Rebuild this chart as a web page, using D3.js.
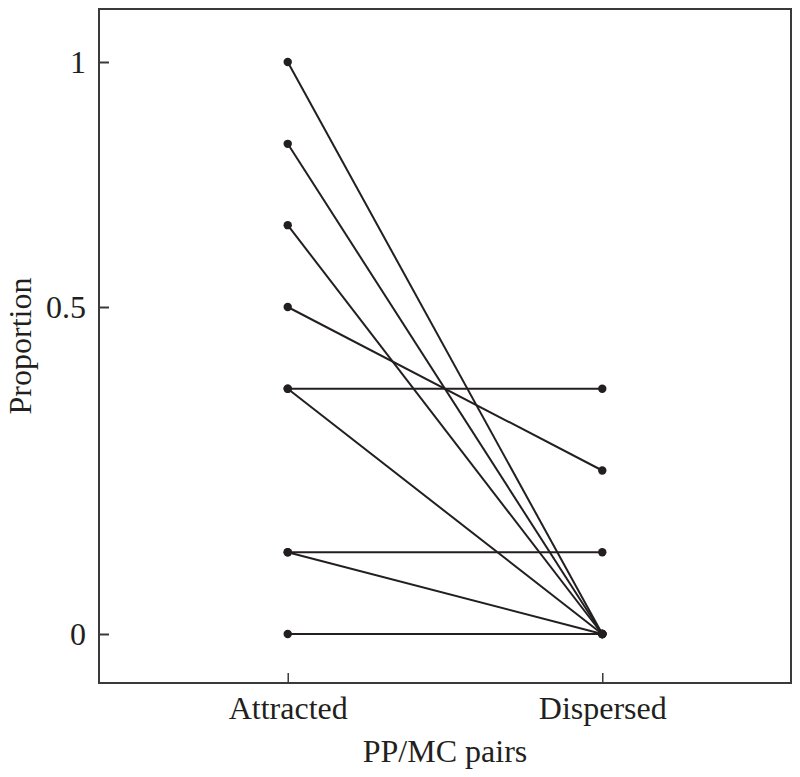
<!DOCTYPE html>
<html>
<head>
<meta charset="utf-8">
<script src="https://cdn.jsdelivr.net/npm/d3@7"></script>
<style>
  html, body { margin: 0; padding: 0; background: #fff; }
  svg { display: block; }
  text { font-family: "Liberation Serif", "DejaVu Serif", serif; fill: #231f20; }
</style>
</head>
<body>
<svg id="chart" width="800" height="777"></svg>
<script>
// Data
const groups = ["Attracted", "Dispersed"];
const attracted = [1, 0.833, 0.667, 0.5, 0.375, 0.375, 0.125, 0.125, 0];
const dispersed = [0, 0, 0, 0.25, 0.375, 0, 0.125, 0, 0];
const yTickValues = [0, 0.5, 1];
const yTickLabels = ["0", "0.5", "1"];
const xTitle = "PP/MC pairs";
const yTitle = "Proportion";

const svg = d3.select("#chart");
const plotLeft = 99, plotRight = 791, plotTop = 9, plotBottom = 683;
const ink = "#231f20";

const x = d3.scalePoint().domain(groups).range([plotLeft, plotRight]).padding(0.6);
// y axis in the original is not uniform: piecewise linear between the ticks
const y = d3.scaleLinear().domain([0, 0.5, 1]).range([634, 307, 62]);

// Frame
svg.append("rect")
  .attr("x", plotLeft).attr("y", plotTop)
  .attr("width", plotRight - plotLeft).attr("height", plotBottom - plotTop)
  .attr("fill", "none").attr("stroke", "#3a3a3a").attr("stroke-width", 2);

// Y axis (ticks inside)
const yAxis = d3.axisLeft(y).tickValues(yTickValues)
  .tickFormat((d, i) => yTickLabels[i]).tickSizeInner(-10).tickSizeOuter(0).tickPadding(13);
const gy = svg.append("g").attr("transform", `translate(${plotLeft},0)`).call(yAxis);
gy.select(".domain").remove();
gy.selectAll(".tick line").attr("stroke", "#3a3a3a").attr("stroke-width", 2);
gy.selectAll(".tick text").style("font-size", "32px").attr("fill", ink)
  .style("font-family", "'Liberation Serif', serif");

// X axis (ticks inside)
const xAxis = d3.axisBottom(x).tickSizeInner(-10).tickSizeOuter(0).tickPadding(13);
const gx = svg.append("g").attr("transform", `translate(0,${plotBottom})`).call(xAxis);
gx.select(".domain").remove();
gx.selectAll(".tick line").attr("stroke", "#3a3a3a").attr("stroke-width", 1.5);
gx.selectAll(".tick text").style("font-size", "32px").attr("fill", ink)
  .style("font-family", "'Liberation Serif', serif");

// Axis titles
svg.append("text")
  .attr("x", (plotLeft + plotRight) / 2).attr("y", 762)
  .attr("text-anchor", "middle").style("font-size", "32px").text(xTitle);
svg.append("text")
  .attr("transform", `translate(31,${(plotTop + plotBottom) / 2}) rotate(-90)`)
  .attr("text-anchor", "middle").style("font-size", "32px").text(yTitle);

// Lines
const pairs = attracted.map((a, i) => ({ a, d: dispersed[i] }));
svg.append("g").selectAll("line").data(pairs).join("line")
  .attr("x1", x("Attracted")).attr("y1", d => y(d.a))
  .attr("x2", x("Dispersed")).attr("y2", d => y(d.d))
  .attr("stroke", ink).attr("stroke-width", 2);

// Points
const pts = [];
attracted.forEach(v => pts.push({ g: "Attracted", v }));
dispersed.forEach(v => pts.push({ g: "Dispersed", v }));
svg.append("g").selectAll("circle").data(pts).join("circle")
  .attr("cx", d => x(d.g)).attr("cy", d => y(d.v))
  .attr("r", 4.2).attr("fill", ink);
</script>
</body>
</html>
